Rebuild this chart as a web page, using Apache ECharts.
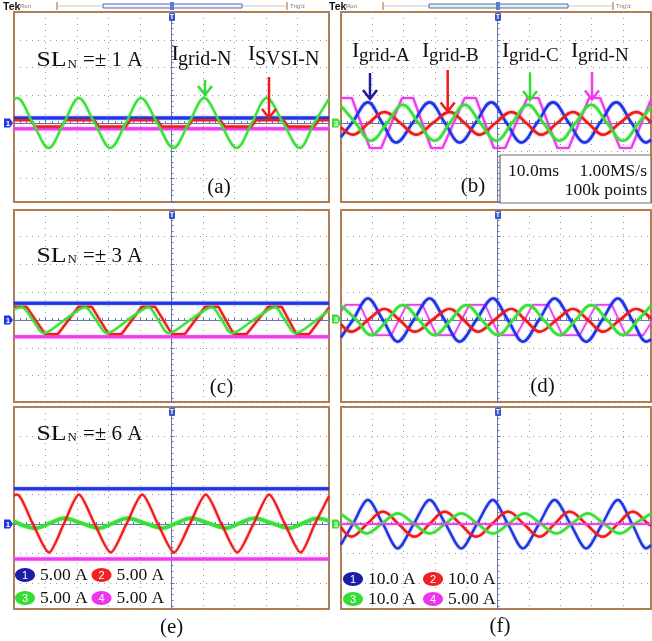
<!DOCTYPE html>
<html><head><meta charset="utf-8">
<script src="https://cdn.jsdelivr.net/npm/echarts@6.0.0/dist/echarts.min.js"></script>
<style>html,body{margin:0;padding:0;background:#fff}#c{width:652px;height:641px}</style>
</head><body><div id="c"></div>
<script>
// All trace values are read from the scope screens, in divisions
// (x: time, 10 ms/div, 0 = screen centre; y: relative to the channel ground marker).

// ---- (a) SL_N = ±1 A ----
const aCh1 = [[-5,0.18],[5,0.18]];
const aCh4 = [[-5,-0.2],[5,-0.2]];
const aCh2 = [[-5,0.1],[-4.47,0.1],[-4.33,-0.12],[-3.5,-0.12],[-3.36,0.1],[-2.45,0.1],[-2.31,-0.12],[-1.45,-0.12],[-1.31,0.1],[-0.45,0.1],[-0.31,-0.12],[0.52,-0.12],[0.66,0.1],[1.55,0.1],[1.69,-0.12],[2.54,-0.12],[2.68,0.1],[3.56,0.1],[3.7,-0.12],[4.53,-0.12],[4.67,0.1],[5,0.1]];
const aCh3 = [[-5,0.86],[-4.9,0.9],[-4.4,0],[-3.9,-0.9],[-3.42,0],[-2.94,0.9],[-2.44,0],[-1.94,-0.9],[-1.45,0],[-0.97,0.9],[-0.45,0],[0.06,-0.9],[0.55,0],[1.04,0.9],[1.55,0],[2.07,-0.9],[2.55,0],[3.02,0.9],[3.55,0],[4.07,-0.9],[4.53,0],[5,0.88]];

// ---- (b) three phase currents + neutral ----
const bCh1 = [[-5,-0.5],[-4.64,0.02],[-4.14,0.75],[-3.69,0.02],[-3.24,-0.7],[-2.7,0.02],[-2.17,0.75],[-1.69,0.02],[-1.21,-0.7],[-0.7,0.02],[-0.2,0.75],[0.28,0.02],[0.76,-0.7],[1.27,0.02],[1.77,0.75],[2.27,0.02],[2.78,-0.7],[3.28,0.02],[3.79,0.75],[4.27,0.02],[4.75,-0.7],[4.9,-0.6]];
const bCh2 = [[-5,-0.15],[-4.62,-0.42],[-4.12,0],[-3.61,0.4],[-3.1,0],[-2.6,-0.42],[-2.07,0],[-1.53,0.4],[-1.05,0],[-0.58,-0.42],[-0.07,0],[0.44,0.4],[0.92,0],[1.4,-0.42],[1.9,0],[2.41,0.4],[2.89,0],[3.37,-0.42],[3.9,0],[4.43,0.4],[4.9,0.02]];
const bCh3 = [[-5,0.62],[-4.53,0],[-4.04,-0.64],[-3.53,0],[-3.03,0.66],[-2.52,0],[-2.01,-0.64],[-1.53,0],[-1.05,0.66],[-0.55,0],[-0.04,-0.64],[0.46,0],[0.97,0.66],[1.47,0],[1.98,-0.64],[2.48,0],[2.99,0.66],[3.5,0],[4.0,-0.64],[4.5,0],[4.9,0.6]];
const bCh4 = [[-5,0.9],[-4.65,0.9],[-4.08,-0.9],[-3.72,-0.9],[-3.05,0.9],[-2.69,0.9],[-2.12,-0.9],[-1.76,-0.9],[-1.05,0.9],[-0.69,0.9],[-0.12,-0.9],[0.24,-0.9],[0.95,0.9],[1.31,0.9],[1.91,-0.9],[2.27,-0.9],[2.92,0.9],[3.28,0.9],[3.91,-0.9],[4.27,-0.9],[4.9,0.85]];

// ---- (c) SL_N = ±3 A ----
const cCh1 = [[-5,0.6],[5,0.6]];
const cCh4 = [[-5,-0.6],[5,-0.6]];
const cCh2 = [[-5,0.48],[-4.6,0.48],[-4.02,-0.5],[-3.6,-0.5],[-2.95,0.48],[-2.53,0.48],[-2.0,-0.5],[-1.58,-0.5],[-0.94,0.48],[-0.52,0.48],[0.01,-0.5],[0.43,-0.5],[1.07,0.48],[1.49,0.48],[1.97,-0.5],[2.39,-0.5],[3.08,0.48],[3.5,0.48],[3.96,-0.5],[4.38,-0.5],[5,0.45]];
const cCh3 = [[-5,0.4],[-4.75,0.46],[-4.4,0],[-4.06,-0.48],[-3.4,0],[-2.74,0.46],[-2.4,0],[-2.05,-0.48],[-1.39,0],[-0.73,0.46],[-0.42,0],[-0.1,-0.48],[0.59,0],[1.28,0.46],[1.6,0],[1.91,-0.48],[2.6,0],[3.29,0.46],[3.6,0],[3.93,-0.48],[4.6,0],[5,0.35]];

// ---- (d) ----
const dCh1 = [[-5,-0.62],[-4.62,0],[-4.14,0.78],[-3.66,0],[-3.19,-0.78],[-2.68,0],[-2.17,0.78],[-1.69,0],[-1.21,-0.78],[-0.68,0],[-0.15,0.78],[0.33,0],[0.81,-0.78],[1.32,0],[1.82,0.78],[2.33,0],[2.83,-0.78],[3.34,0],[3.84,0.78],[4.3,0],[4.75,-0.78],[4.9,-0.7]];
const dCh2 = [[-5,-0.15],[-4.67,-0.42],[-4.14,0],[-3.61,0.4],[-3.13,0],[-2.65,-0.42],[-2.09,0],[-1.53,0.4],[-1.08,0],[-0.63,-0.42],[-0.1,0],[0.44,0.4],[0.89,0],[1.34,-0.42],[1.88,0],[2.41,0.4],[2.89,0],[3.36,-0.42],[3.9,0],[4.43,0.4],[4.9,0.05]];
const dCh3 = [[-5,0.53],[-4.5,0],[-4.04,-0.54],[-3.52,0],[-3.03,0.54],[-2.51,0],[-2.01,-0.54],[-1.5,0],[-1.0,0.54],[-0.5,0],[0.01,-0.54],[0.49,0],[0.97,0.54],[1.48,0],[1.98,-0.54],[2.49,0],[2.99,0.54],[3.5,0],[4.0,-0.54],[4.48,0],[4.9,0.52]];
const dCh4 = [[-5,0.3],[-4.85,0.55],[-4.4,0.55],[-3.95,-0.55],[-3.4,-0.55],[-2.9,0.55],[-2.4,0.55],[-1.95,-0.55],[-1.4,-0.55],[-0.9,0.55],[-0.4,0.55],[0.05,-0.55],[0.6,-0.55],[1.12,0.55],[1.62,0.55],[2.07,-0.55],[2.62,-0.55],[3.15,0.55],[3.65,0.55],[4.1,-0.55],[4.65,-0.55],[4.9,-0.1]];

// ---- (e) SL_N = ±6 A ----
const eCh1 = [[-5,1.2],[5,1.2]];
const eCh4 = [[-5,-1.19],[5,-1.19]];
const eCh2 = [[-5,0.97],[-4.9,1.0],[-4.4,0],[-3.89,-0.97],[-3.42,0],[-2.94,1.0],[-2.44,0],[-1.93,-0.97],[-1.43,0],[-0.93,1.0],[-0.43,0],[0.08,-0.97],[0.58,0],[1.09,1.0],[1.59,0],[2.09,-0.97],[2.6,0],[3.1,1.0],[3.6,0],[4.1,-0.97],[4.55,0],[5,0.95]];
const eCh3 = [[-5,0.09],[-4.31,-0.14],[-3.86,0.03],[-3.41,0.2],[-2.86,0.03],[-2.3,-0.14],[-1.85,0.03],[-1.4,0.2],[-0.85,0.03],[-0.29,-0.14],[0.16,0.03],[0.61,0.2],[1.17,0.03],[1.72,-0.14],[2.17,0.03],[2.62,0.2],[3.18,0.03],[3.73,-0.14],[4.18,0.03],[4.63,0.2],[5,0.1]];

// ---- (f) ----
const fCh1 = [[-5,-0.7],[-4.62,0],[-4.14,0.82],[-3.66,0],[-3.19,-0.83],[-2.68,0],[-2.17,0.82],[-1.66,0],[-1.16,-0.83],[-0.66,0],[-0.15,0.82],[0.33,0],[0.81,-0.83],[1.32,0],[1.82,0.82],[2.33,0],[2.83,-0.83],[3.34,0],[3.84,0.82],[4.3,0],[4.75,-0.83],[4.9,-0.72]];
const fCh2 = [[-5,-0.1],[-4.67,-0.43],[-4.17,0],[-3.66,0.42],[-3.16,0],[-2.65,-0.43],[-2.17,0],[-1.69,0.42],[-1.19,0],[-0.68,-0.43],[-0.18,0],[0.33,0.42],[0.84,0],[1.34,-0.43],[1.82,0],[2.3,0.42],[2.83,0],[3.36,-0.43],[3.84,0],[4.32,0.42],[4.82,0],[4.9,-0.05]];
const fCh3 = [[-5,0.34],[-4.6,0.02],[-4.19,-0.32],[-3.69,0.02],[-3.19,0.36],[-2.68,0.02],[-2.17,-0.32],[-1.66,0.02],[-1.16,0.36],[-0.65,0.02],[-0.15,-0.32],[0.36,0.02],[0.86,0.36],[1.37,0.02],[1.88,-0.32],[2.38,0.02],[2.88,0.36],[3.39,0.02],[3.9,-0.32],[4.4,0.02],[4.9,0.36]];
const fCh4 = [[-5,0],[4.9,0]];

// text
const slLabels = ['=± 1 A', '=± 3 A', '=± 6 A'];
const panelLetters = ['(a)','(b)','(c)','(d)','(e)','(f)'];
const phaseLabels = ['grid-A','grid-B','grid-C','grid-N'];
const scaleE = ['5.00 A','5.00 A','5.00 A','5.00 A'];
const scaleF = ['10.0 A','10.0 A','10.0 A','5.00 A'];
const infoBox = ['10.0ms', '1.00MS/s', '100k points'];

// ---------- layout & style ----------
const FRAME = '#b27c4e', GRID = '#9a9a9a', AX = '#6777ae';
const C1 = '#1f35e6', C2 = '#f01a1a', C3 = '#38e038', C4 = '#f03cf0';
const SERIF = '"Liberation Serif","Times New Roman",serif';
const SANS = '"Liberation Sans",Arial,sans-serif';

const panels = [
  {g:{left:14, top:12, width:315, height:190}, x:[-5,5],   y:[-2.84,4.0]},
  {g:{left:341,top:12, width:310, height:190}, x:[-5,4.9], y:[-2.84,4.0]},
  {g:{left:14, top:210,width:315, height:192}, x:[-5,5],   y:[-2.95,3.96]},
  {g:{left:341,top:210,width:310, height:192}, x:[-5,4.9], y:[-2.95,3.96]},
  {g:{left:14, top:407,width:315, height:202}, x:[-5,5],   y:[-2.89,3.98]},
  {g:{left:341,top:407,width:310, height:202}, x:[-5,4.9], y:[-2.89,3.98]}
];

const grid = panels.map(p => Object.assign({show:true, borderColor:FRAME, borderWidth:2, backgroundColor:'#fff'}, p.g));
const axisCommon = {
  type:'value', axisLabel:{show:false},
  axisLine:{show:true, onZero:true, lineStyle:{color:AX, width:1}},
  axisTick:{show:true, inside:true, length:3, lineStyle:{color:AX}},
  minorTick:{show:true, splitNumber:5, length:2, lineStyle:{color:AX}},
  splitLine:{show:true, lineStyle:{color:GRID, width:1, type:[1,5]}}
};
const xAxis = panels.map((p,i) => Object.assign({}, axisCommon, {gridIndex:i, min:p.x[0], max:p.x[1], interval:1}));
const yAxis = panels.map((p,i) => Object.assign({}, axisCommon, {gridIndex:i, min:p.y[0], max:p.y[1], splitNumber:7}));

function tr(i, data, color, width, smooth){
  return {type:'line', xAxisIndex:i, yAxisIndex:i, data, symbol:'none', showSymbol:false,
    smooth: smooth || false, silent:true,
    lineStyle:{color, width, shadowColor:color, shadowBlur:1.5}};
}
const series = [
  tr(0,aCh1,C1,3), tr(0,aCh4,C4,3), tr(0,aCh2,C2,2), tr(0,aCh3,C3,2,0.35),
  tr(1,bCh4,C4,2), tr(1,bCh1,C1,2.4,0.4), tr(1,bCh2,C2,2.4,0.4), tr(1,bCh3,C3,2.4,0.4),
  tr(2,cCh1,C1,3), tr(2,cCh4,C4,3), tr(2,cCh2,C2,2), tr(2,cCh3,C3,2,0.3),
  tr(3,dCh4,C4,1.4), tr(3,dCh1,C1,2.4,0.35), tr(3,dCh2,C2,2.4,0.4), tr(3,dCh3,C3,2.4,0.4),
  tr(4,eCh1,C1,3), tr(4,eCh4,C4,3), tr(4,eCh3,C3,3.5,0.4), tr(4,eCh2,C2,2,0.25),
  tr(5,fCh1,C1,2.2,0.3), tr(5,fCh2,C2,2.2,0.4), tr(5,fCh3,C3,2.4,0.4), tr(5,fCh4,C4,1.6)
];

// ---------- annotations ----------
const G = [];
function txt(x,y,t,size,opt){ opt=opt||{}; const el={type:'text', x, y, z:100, style:{text:t, font:(opt.bold?'bold ':'')+size+'px '+(opt.family||SERIF), fill:opt.fill||'#111', align:opt.align||'left', verticalAlign:'middle'}}; if(opt.sx){el.scaleX=opt.sx;} G.push(el); }
function arrow(x,y1,y2,color){
  G.push({type:'line', z:100, shape:{x1:x,y1:y1,x2:x,y2:y2-1}, style:{stroke:color, lineWidth:2.5}});
  G.push({type:'polyline', z:100, shape:{points:[[x-7,y2-9],[x,y2],[x+7,y2-9]]}, style:{stroke:color, lineWidth:2.5, fill:null}});
}
function chanMark(x,y,label,color){
  G.push({type:'polygon', z:100, shape:{points:[[x,y-4.5],[x+6,y-4.5],[x+9,y],[x+6,y+4.5],[x,y+4.5]]}, style:{fill:color}});
  txt(x+4,y+0.5,label,8,{family:SANS,bold:true,fill:'#fff',align:'center'});
}
function trigMark(x,y){
  G.push({type:'rect', z:100, shape:{x:x-3,y:y,width:6,height:8,r:1}, style:{fill:'#3a55c8'}});
  txt(x,y+4,'T',7,{family:SANS,bold:true,fill:'#fff',align:'center'});
}
function legendItem(cx,cy,num,color,label){
  G.push({type:'ellipse', z:100, shape:{cx,cy,rx:10,ry:7}, style:{fill:color}});
  txt(cx,cy+0.5,num,11,{family:SANS,fill:'#fff',align:'center'});
  txt(cx+15,cy,label,17.5);
}
// header strips
[[172,0],[498,1]].forEach(([cx,k])=>{
  txt(cx-169,7,'Tek',10.5,{family:SANS,bold:true});
  txt(cx-152,6,'Run',6,{family:SANS,fill:'#777'});
  G.push({type:'line', z:100, shape:{x1:cx-115,y1:6,x2:cx+115,y2:6}, style:{stroke:'#c8c8c8', lineWidth:1}});
  G.push({type:'rect', z:100, shape:{x:cx-69,y:4,width:139,height:4}, style:{fill:k?'#e4f3e4':'#f4f4ff', stroke:'#5566aa', lineWidth:1}});
  G.push({type:'line', z:100, shape:{x1:cx-115,y1:2,x2:cx-115,y2:10}, style:{stroke:'#c79a78', lineWidth:1.5}});
  G.push({type:'line', z:100, shape:{x1:cx+115,y1:2,x2:cx+115,y2:10}, style:{stroke:'#c79a78', lineWidth:1.5}});
  txt(cx+118,6,"Trig'd",6,{family:SANS,fill:'#777'});
  G.push({type:'rect', z:100, shape:{x:cx-2,y:2,width:4,height:8}, style:{fill:'#5d7bd8'}});
});
// trigger markers & channel ground markers
[[172,13],[498,13],[172,211],[498,211],[172,408],[498,408]].forEach(([x,y])=>trigMark(x,y));
chanMark(4,123,'1',C1); chanMark(332,123,'3',C3);
chanMark(4,320,'1',C1); chanMark(332,319,'3',C3);
chanMark(4,524,'1',C1); chanMark(332,524,'3',C3);

// SL_N labels
[[60.8,0],[256,1],[434.5,2]].forEach(([y,k])=>{
  txt(36.5,y,'SL',21.5,{sx:1.2}); txt(67.5,y+3.5,'N',13); txt(83,y,slLabels[k],21);
});
// (a) labels
txt(171.5,54.5,'I',22); txt(178,60,'grid-N',20);
txt(248,54.5,'I',22); txt(255,60,'SVSI-N',20);
arrow(205,80,95,'#33dd33'); arrow(269,77,118,C2);
// (b) labels
[[352,0],[422,1],[502,2],[571,3]].forEach(([x,k])=>{ txt(x,51.5,'I',22); txt(x+7,56,phaseLabels[k],19); });
arrow(370,73,99,'#1a1a9a'); arrow(447.7,70,111.5,C2); arrow(530,72.5,100,'#33dd33'); arrow(592,72,99.5,C4);
G.push({type:'rect', z:100, shape:{x:500,y:155,width:151,height:48}, style:{fill:'#fff', stroke:'#6e6e6e', lineWidth:1.2}});
txt(508,171.5,infoBox[0],17.5); txt(647,171.5,infoBox[1],17.5,{align:'right'}); txt(647,190,infoBox[2],17.5,{align:'right'});
// panel letters
[[219,187],[473,186.5],[221.5,387],[542.5,386.4],[171.7,627],[500,626.5]].forEach(([x,y],k)=>txt(x,y,panelLetters[k],21,{align:'center'}));
// scale legends
legendItem(25,575,'1','#1c1ca8',scaleE[0]); legendItem(101.5,575,'2','#ee2222',scaleE[1]);
legendItem(25,598,'3','#33dd33',scaleE[2]); legendItem(101.5,598,'4','#ee33ee',scaleE[3]);
legendItem(353,579,'1','#1c1ca8',scaleF[0]); legendItem(433,579,'2','#ee2222',scaleF[1]);
legendItem(353,599,'3','#33dd33',scaleF[2]); legendItem(433,599,'4','#ee33ee',scaleF[3]);

const chart = echarts.init(document.getElementById('c'), null, {renderer:'canvas', width:652, height:641});
chart.setOption({animation:false, backgroundColor:'#fff', grid, xAxis, yAxis, series, graphic:{elements:G}});
</script></body></html>
